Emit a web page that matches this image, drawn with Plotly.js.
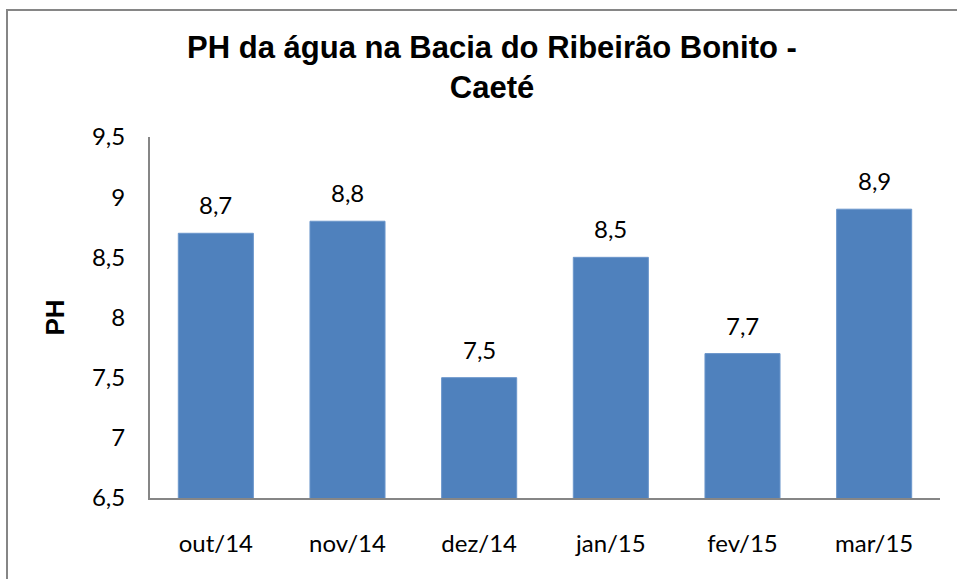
<!DOCTYPE html>
<html>
<head>
<meta charset="utf-8">
<script src="https://cdn.plot.ly/plotly-3.0.1.min.js"></script>
<style>html,body{margin:0;padding:0;background:#fff;}#chart{width:957px;height:579px;}</style>
</head>
<body>
<div id="chart"></div>
<script>
const categories = ["out/14", "nov/14", "dez/14", "jan/15", "fev/15", "mar/15"];
const phValues = [8.7, 8.8, 7.5, 8.5, 7.7, 8.9];
const yTicks = [6.5, 7, 7.5, 8, 8.5, 9, 9.5];

const W = 957, H = 579;
const L = 150, R = 17, T = 137, B = 81;
const pw = W - L - R, ph = H - T - B;
const px = p => (p - L) / pw;
const py = p => (H - B - p) / ph;

const labelFont = "Lato, 'Liberation Sans', sans-serif";

const trace = {
  type: "bar",
  x: categories,
  y: phValues,
  marker: {color: "#4F81BD", line: {color: "#6B96CB", width: 1}},
  hoverinfo: "skip"
};

const annotations = categories.map((c, i) => ({
  x: c, y: phValues[i], xref: "x", yref: "y",
  text: String(phValues[i]).replace(".", ","),
  showarrow: false, yanchor: "bottom", yshift: 12,
  font: {family: labelFont, size: 24, color: "#000"}
}));

const layout = {
  width: W, height: H,
  margin: {l: L, r: R, t: T, b: B},
  paper_bgcolor: "#fff", plot_bgcolor: "#fff",
  separators: ",.",
  showlegend: false,
  bargap: 0.43,
  title: {
    text: "PH da água na Bacia do Ribeirão Bonito -<br>Caeté",
    x: 492 / W, xref: "container", xanchor: "center",
    y: 1 - 58 / H, yref: "container", yanchor: "top",
    font: {family: "'Liberation Sans', Arial, sans-serif", size: 31, color: "#000", weight: "bold"}
  },
  xaxis: {
    type: "category",
    showline: true, linecolor: "#868686", linewidth: 2,
    ticks: "", showgrid: false, zeroline: false,
    tickfont: {family: labelFont, size: 24, color: "#000"},
    ticklabelstandoff: 23
  },
  yaxis: {
    range: [6.5, 9.5], tickvals: yTicks,
    showline: true, linecolor: "#868686", linewidth: 2,
    ticks: "", showgrid: false, zeroline: false,
    tickfont: {family: labelFont, size: 24, color: "#000"},
    ticklabelstandoff: 18,
    title: {text: "PH", standoff: 20, font: {family: "'Liberation Sans', Arial, sans-serif", size: 26, color: "#000", weight: "bold"}}
  },
  annotations: annotations,
  shapes: [{
    type: "rect", xref: "paper", yref: "paper",
    x0: px(7), x1: px(975), y0: py(10), y1: py(600),
    line: {color: "#868686", width: 2}, fillcolor: "rgba(0,0,0,0)", layer: "above"
  }]
};

Plotly.newPlot("chart", [trace], layout, {displayModeBar: false, staticPlot: true});
</script>
</body>
</html>
